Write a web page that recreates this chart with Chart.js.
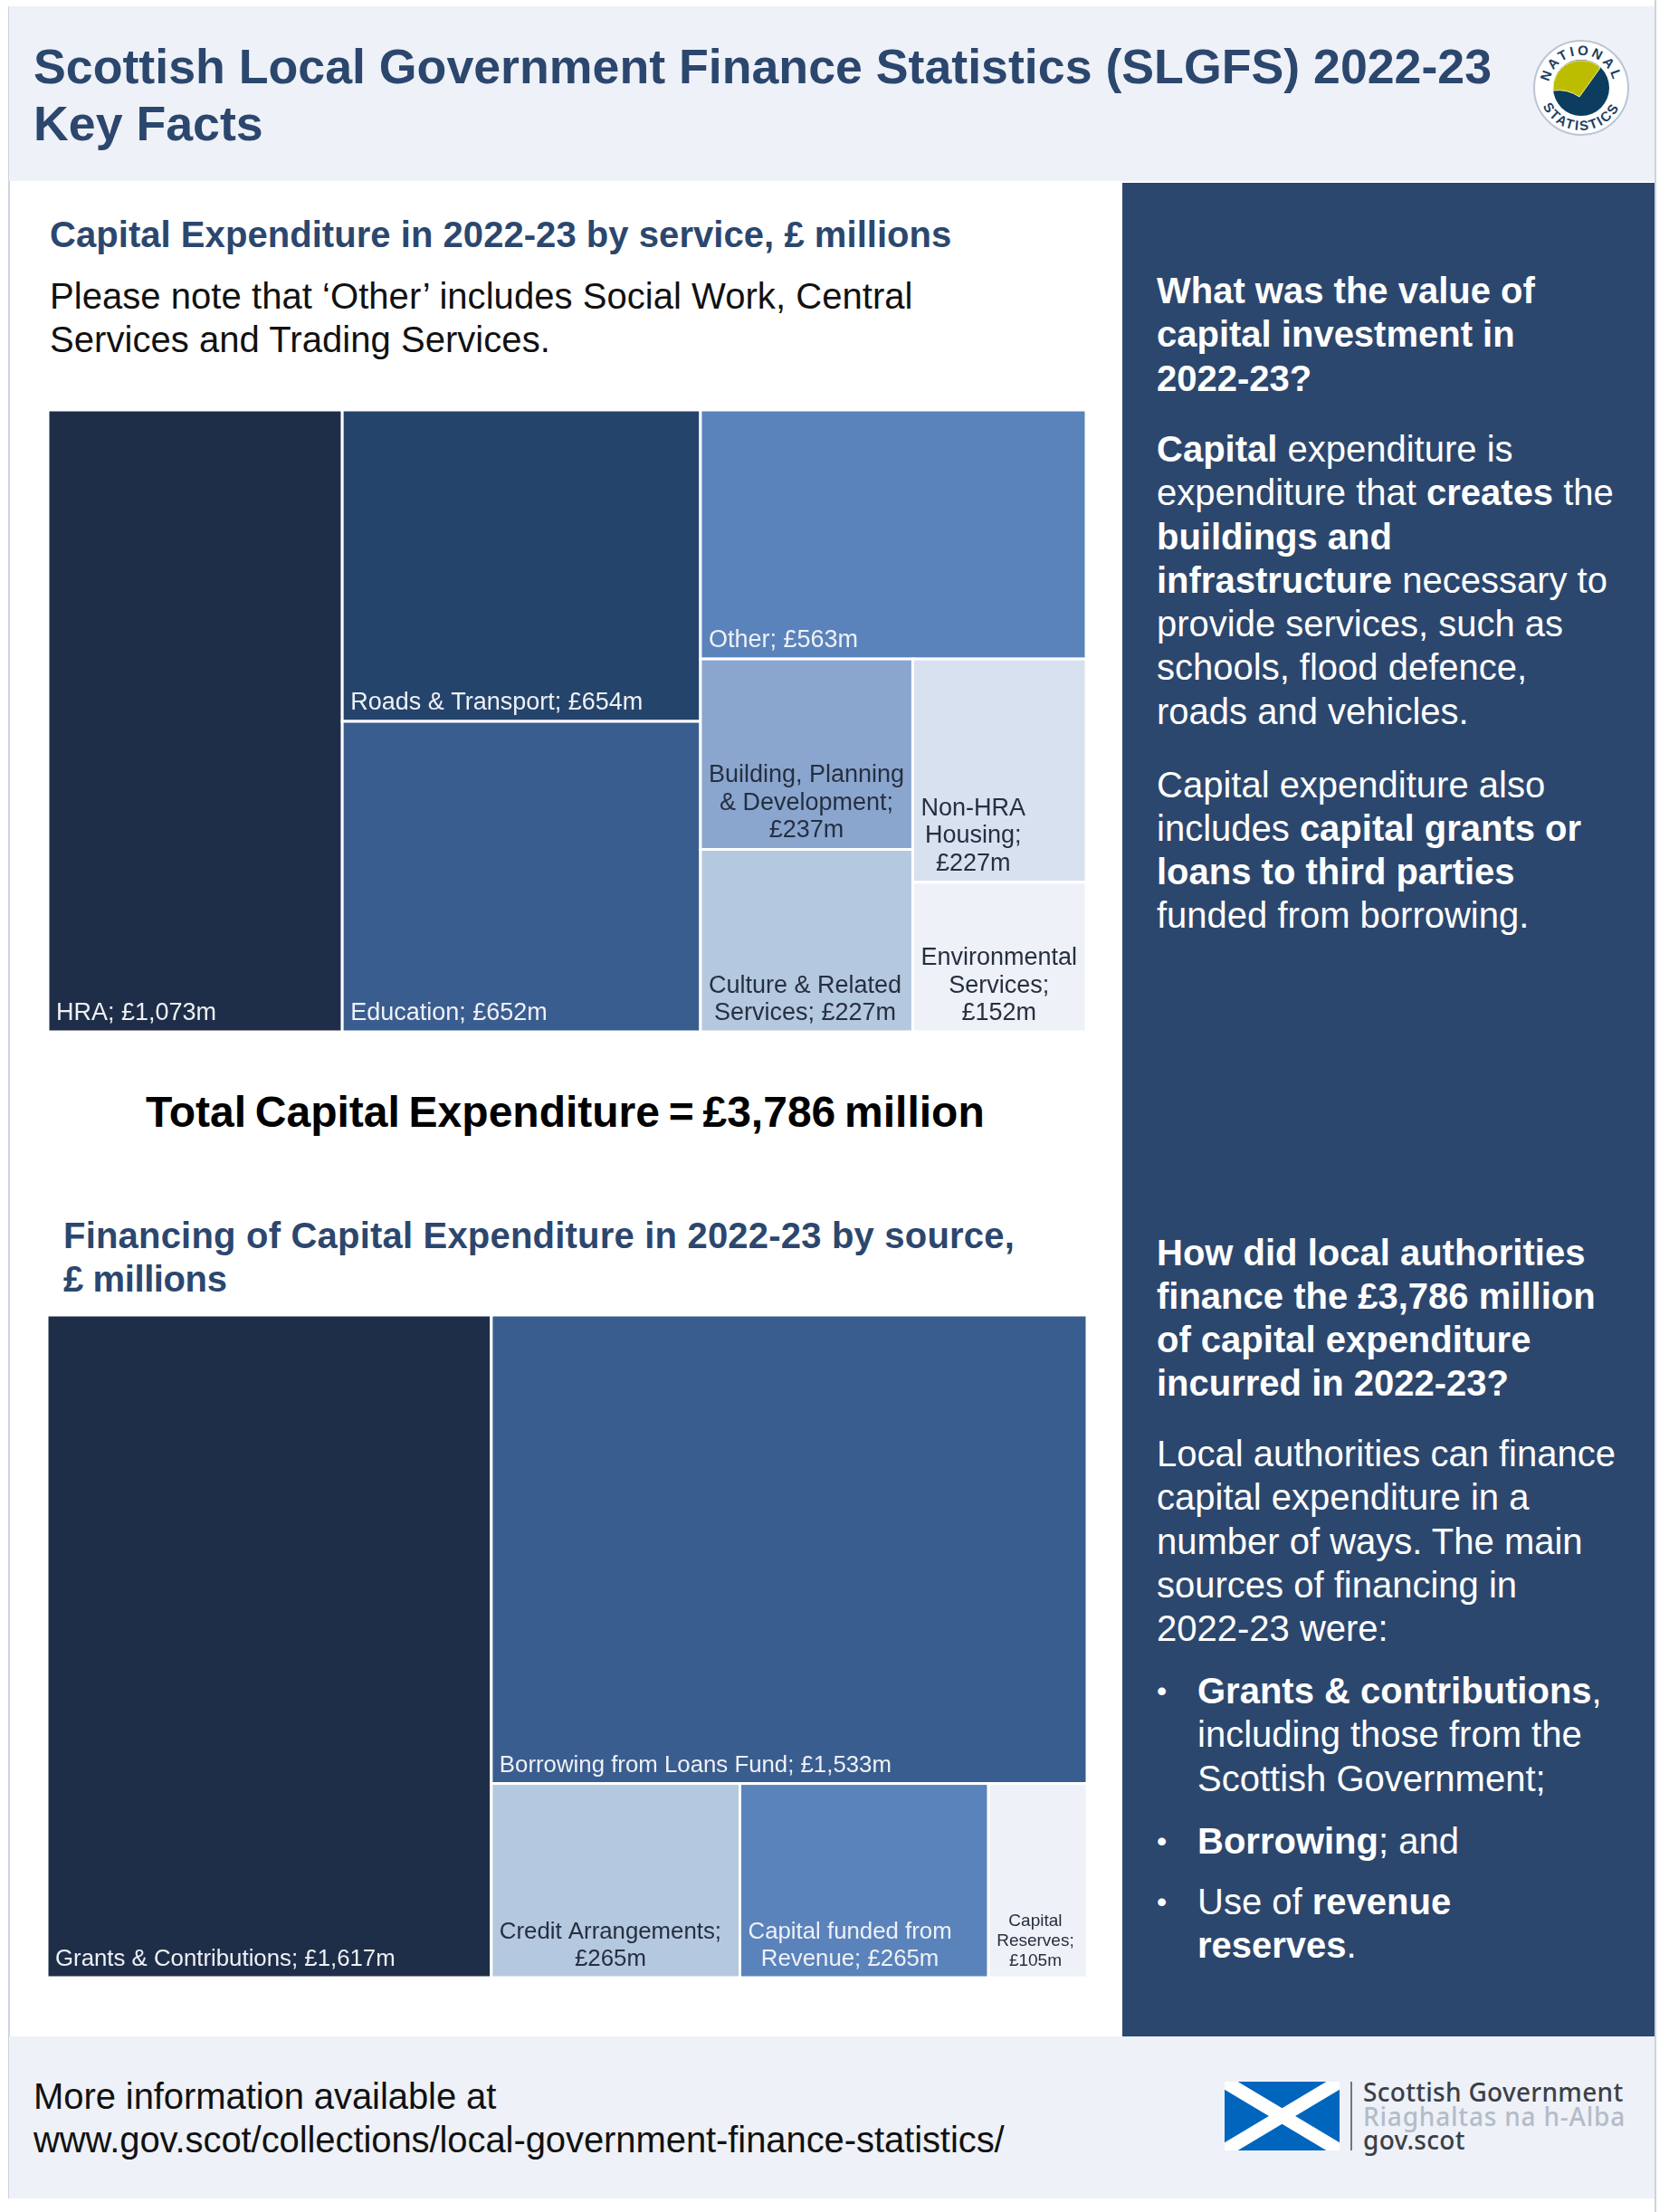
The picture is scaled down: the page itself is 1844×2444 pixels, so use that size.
<!DOCTYPE html>
<html lang="en">
<head>
<meta charset="utf-8">
<title>SLGFS 2022-23 Key Facts</title>
<script src="https://cdn.jsdelivr.net/npm/chart.js@4/dist/chart.umd.min.js"></script>
<style>
    html, body { margin: 0; padding: 0; background: #fff; }
    body { position: relative; width: 1844px; height: 2444px; overflow: hidden;
           font-family: "Liberation Sans", Arial, sans-serif; color: #111; filter: blur(0.5px); }
    .box { position: absolute; }
    .txt { position: absolute; font-size: 40px; line-height: 48.3px; white-space: nowrap; }
    .navy { color: #2c476e; font-weight: bold; }
    .white { color: #fff; }
    .dot { position: absolute; left: -45px; font-size: 32px; }
    .chartbox { position: absolute; }
</style>
</head>
<body>
<div class="box" style="left:9px;top:7px;width:2px;height:2422px;background:#cdd3de"></div>
<div class="box" style="left:1828px;top:0;width:2px;height:2444px;background:#cdd3de"></div>
<div class="box" style="left:10px;top:7px;width:1818px;height:193px;background:#eef1f7"></div>
<div class="box" style="left:1240px;top:202px;width:588px;height:2048px;background:#2c476e"></div>
<div class="box" style="left:10px;top:2250px;width:1818px;height:179px;background:#eef1f7"></div>

<div class="txt navy" style="left:37px;top:42px;font-size:53.7px;line-height:63px">Scottish Local Government Finance Statistics (SLGFS) 2022-23<br>Key Facts</div>

<svg class="box" style="left:1690px;top:40px" width="114" height="114" viewBox="0 0 114 114">
    <defs>
        <path id="nsTop" d="M 21 57 A 36 36 0 0 1 93 57"/>
        <path id="nsBottom" d="M 10 57 A 47 47 0 0 0 104 57"/>
    </defs>
    <circle cx="57" cy="57" r="52" fill="#fff" stroke="#bcc5d4" stroke-width="2"/>
    <circle cx="57" cy="57" r="31" fill="#0c3c60"/>
    <path d="M 26 60 A 31 31 0 0 1 78 35 L 55 67 Q 42 58 26 60 Z" fill="#bcbc00" stroke="#eef0a0" stroke-width="1"/>
    <text font-family="Liberation Sans" font-weight="bold" font-size="15" letter-spacing="3" fill="#1c3f63" text-anchor="middle"><textPath href="#nsTop" startOffset="50%">NATIONAL</textPath></text>
    <text font-family="Liberation Sans" font-weight="bold" font-size="15" letter-spacing="2" fill="#1c3f63" text-anchor="middle"><textPath href="#nsBottom" startOffset="50%">STATISTICS</textPath></text>
</svg>

<div class="txt navy" style="left:55px;top:235px;letter-spacing:.05px">Capital Expenditure in 2022-23 by service, £ millions</div>
<div class="txt" style="left:55px;top:303px;letter-spacing:.05px">Please note that ‘Other’ includes Social Work, Central<br>Services and Trading Services.</div>
<div class="chartbox" style="left:53px;top:453px;width:1147px;height:687px"><canvas id="serviceChart"></canvas></div>
<div class="txt" style="left:161px;top:1201px;font-size:48px;line-height:56px;font-weight:bold;color:#000;word-spacing:-3.6px">Total Capital Expenditure = £3,786 million</div>
<div class="txt navy" style="left:70px;top:1341px;letter-spacing:.2px">Financing of Capital Expenditure in 2022-23 by source,<br><span style="letter-spacing:-.4px">£ millions</span></div>
<div class="chartbox" style="left:52px;top:1453px;width:1149px;height:732px"><canvas id="financingChart"></canvas></div>

<div class="txt white" style="left:1278px;top:297px"><b>What was the value of<br>capital investment in<br>2022-23?</b></div>
<div class="txt white" style="left:1278px;top:472px"><b>Capital</b> expenditure is<br>expenditure that <b>creates</b> the<br><b>buildings and</b><br><b>infrastructure</b> necessary to<br>provide services, such as<br>schools, flood defence,<br>roads and vehicles.</div>
<div class="txt white" style="left:1278px;top:843px;line-height:48px">Capital expenditure also<br>includes <b>capital grants or</b><br><b>loans to third parties</b><br>funded from borrowing.</div>
<div class="txt white" style="left:1278px;top:1360px;line-height:48px"><b>How did local authorities<br>finance the £3,786 million<br>of capital expenditure<br>incurred in 2022-23?</b></div>
<div class="txt white" style="left:1278px;top:1582px">Local authorities can finance<br>capital expenditure in a<br>number of ways. The main<br>sources of financing in<br>2022-23 were:</div>
<div class="txt white" style="left:1323px;top:1844px"><span class="dot">•</span><b>Grants &amp; contributions</b>,<br>including those from the<br>Scottish Government;</div>
<div class="txt white" style="left:1323px;top:2010px"><span class="dot">•</span><b>Borrowing</b>; and</div>
<div class="txt white" style="left:1323px;top:2077px"><span class="dot">•</span>Use of <b>revenue</b><br><b>reserves</b>.</div>

<div class="txt" style="left:37px;top:2292px;letter-spacing:-.08px">More information available at<br>www.gov.scot/collections/local-government-finance-statistics/</div>

<svg class="box" style="left:1353px;top:2300px" width="127" height="76" viewBox="0 0 127 76">
    <rect width="127" height="76" fill="#0065bd"/>
    <path d="M 0 0 L 127 76 M 127 0 L 0 76" stroke="#fff" stroke-width="15"/>
</svg>
<div class="box" style="left:1492px;top:2300px;width:2px;height:76px;background:#6f7782"></div>
<div class="txt" style="left:1506px;top:2298px;font-family:'Noto Sans';font-size:28px;line-height:26.5px;color:#3a4048;font-weight:500"><span style="letter-spacing:.3px">Scottish Government</span><br><span style="color:#b3bcc9;letter-spacing:.8px">Riaghaltas na h-Alba</span><br><span style="letter-spacing:.3px">gov.scot</span></div>

<script>
// Capital expenditure by service, £ millions
const serviceNames = ['HRA', 'Roads & Transport', 'Education', 'Other', 'Building, Planning & Development',
    'Culture & Related Services', 'Non-HRA Housing', 'Environmental Services'];
const serviceValues = [1073, 654, 652, 563, 237, 227, 227, 152];
// index of each cell, nested groups switch between columns and rows
const serviceTree = [0, [1, 2], [3, [[4, 5], [6, 7]]]];
const serviceColours = ['#1f2e48', '#25446c', '#3a5d8f', '#5a83bb', '#8aa6cf', '#b4c8df', '#d8e1f0', '#eef1f7'];

// Financing of capital expenditure by source, £ millions
const financingNames = ['Grants & Contributions', 'Borrowing from Loans Fund', 'Credit Arrangements',
    'Capital funded from Revenue', 'Capital Reserves'];
const financingValues = [1617, 1533, 265, 265, 105];
const financingTree = [0, [1, [2, 3, 4]]];
const financingColours = ['#1f2e48', '#3a5d8f', '#b4c8df', '#5a83bb', '#eef1f7'];

const darkText = '#262f40';
const lightText = '#eef1f6';

function sumOf(node, values) {
    return Array.isArray(node) ? node.reduce((s, n) => s + sumOf(n, values), 0) : values[node];
}

// Slice-and-dice: every group splits its box in proportion to the values
function layout(node, values, box, vertical, out) {
    if (!Array.isArray(node)) {
        out[node] = box;
        return out;
    }
    const total = sumOf(node, values);
    let pos = vertical ? box.x0 : box.y0;
    node.forEach(child => {
        const size = sumOf(child, values) / total * (vertical ? box.x1 - box.x0 : box.y1 - box.y0);
        const next = pos + size;
        const sub = vertical ? { x0: pos, x1: next, y0: box.y0, y1: box.y1 }
                             : { x0: box.x0, x1: box.x1, y0: pos, y1: next };
        layout(child, values, sub, !vertical, out);
        pos = next;
    });
    return out;
}

function isDark(hex) {
    const n = parseInt(hex.slice(1), 16);
    return ((n >> 16) & 255) * 0.3 + ((n >> 8) & 255) * 0.59 + (n & 255) * 0.11 < 135;
}

function wrapText(ctx, text, maxWidth) {
    const lines = [];
    let line = '';
    text.split(' ').forEach(word => {
        const test = line ? line + ' ' + word : word;
        if (line && ctx.measureText(test).width > maxWidth) {
            lines.push(line);
            line = word;
        } else {
            line = test;
        }
    });
    lines.push(line);
    return lines;
}

const treemapCells = {
    id: 'treemapCells',
    afterDatasetsDraw(chart) {
        const { ctx, scales: { x, y } } = chart;
        const ds = chart.data.datasets[0];
        ctx.save();
        ds.data.forEach((cell, i) => {
            const left = x.getPixelForValue(cell.x0);
            const right = x.getPixelForValue(cell.x1);
            const top = y.getPixelForValue(cell.y0);
            const bottom = y.getPixelForValue(cell.y1);
            ctx.fillStyle = ds.cellColours[i];
            ctx.fillRect(left, top, right - left, bottom - top);
            ctx.strokeStyle = '#fff';
            ctx.lineWidth = 3;
            ctx.strokeRect(left, top, right - left, bottom - top);

            // label sits bottom left, wrapped lines are centred inside the block
            const small = right - left < 130;
            const size = small ? 19 : ds.labelSize;
            const lineHeight = small ? 22 : 30.5;
            const pad = 9;
            ctx.font = size + 'px "Liberation Sans"';
            ctx.fillStyle = isDark(ds.cellColours[i]) ? lightText : darkText;
            ctx.textBaseline = 'alphabetic';
            ctx.textAlign = 'center';
            const lines = wrapText(ctx, cell.label, right - left - pad * 2 + 4);
            const blockWidth = Math.max(...lines.map(l => ctx.measureText(l).width));
            lines.forEach((line, n) => {
                const lineY = bottom - 13 - (lines.length - 1 - n) * lineHeight;
                ctx.fillText(line, left + pad + blockWidth / 2, lineY);
            });
        });
        ctx.restore();
    }
};

function drawTreemap(canvasId, names, values, tree, colours, labelSize) {
    const total = values.reduce((s, v) => s + v, 0);
    const boxes = layout(tree, values, { x0: 0, x1: total, y0: 0, y1: total }, true, []);
    const cells = names.map((name, i) => ({
        ...boxes[i],
        x: (boxes[i].x0 + boxes[i].x1) / 2,
        y: (boxes[i].y0 + boxes[i].y1) / 2,
        label: name + '; £' + values[i].toLocaleString('en-GB') + 'm'
    }));
    return new Chart(document.getElementById(canvasId), {
        type: 'scatter',
        data: { datasets: [{ data: cells, pointRadius: 0, cellColours: colours, labelSize: labelSize }] },
        options: {
            responsive: true,
            maintainAspectRatio: false,
            animation: false,
            layout: { padding: 0 },
            plugins: { legend: { display: false }, tooltip: { enabled: false } },
            scales: {
                x: { type: 'linear', min: 0, max: total, display: false },
                y: { type: 'linear', min: 0, max: total, reverse: true, display: false }
            }
        },
        plugins: [treemapCells]
    });
}

drawTreemap('serviceChart', serviceNames, serviceValues, serviceTree, serviceColours, 27);
drawTreemap('financingChart', financingNames, financingValues, financingTree, financingColours, 25.8);
</script>
</body>
</html>
